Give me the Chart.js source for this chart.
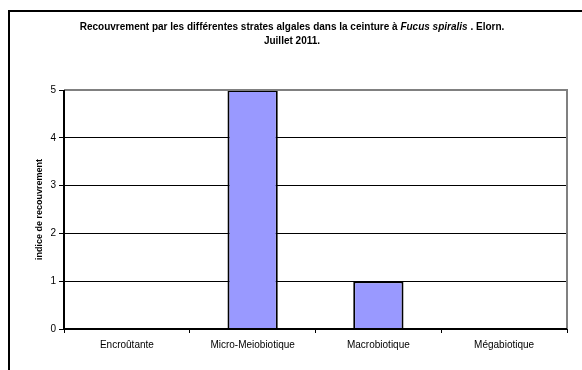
<!DOCTYPE html>
<html>
<head>
<meta charset="utf-8">
<script src="https://cdn.jsdelivr.net/npm/chart.js@4/dist/chart.umd.min.js"></script>
<style>
  html, body { margin: 0; padding: 0; background: #fff; }
  #wrap { position: relative; width: 582px; height: 370px; }
</style>
</head>
<body>
<div id="wrap"><canvas id="c" width="582" height="370"></canvas></div>
<script>
// Strates algales et indice de recouvrement
const categories = ['Encroûtante', 'Micro-Meiobiotique', 'Macrobiotique', 'Mégabiotique'];
const recouvrement = [0, 5, 1, 0];
const yTickLabels = ['0', '1', '2', '3', '4', '5'];

const titleLine1 = [
  { text: 'Recouvrement par les différentes strates algales dans la ceinture à ', italic: false },
  { text: 'Fucus spiralis', italic: true },
  { text: ' . Elorn.', italic: false }
];
const titleLine2 = 'Juillet 2011.';
const axisTitle = 'indice de recouvrement';

const FONT = '"Liberation Sans", Arial, sans-serif';

// Outer frame, plot-area border and two-line title with an italic species name
const decor = {
  id: 'decor',
  beforeDraw(chart) {
    const ctx = chart.ctx;
    ctx.save();
    ctx.fillStyle = '#fff';
    ctx.fillRect(0, 0, chart.width, chart.height);
    ctx.strokeStyle = '#000';
    ctx.lineWidth = 2;
    ctx.beginPath();
    ctx.moveTo(9, chart.height);
    ctx.lineTo(9, 11);
    ctx.lineTo(chart.width, 11);
    ctx.stroke();
    ctx.restore();
  },
  afterDatasetsDraw(chart) {
    const ctx = chart.ctx;
    const a = chart.chartArea;
    ctx.save();
    ctx.lineWidth = 2;
    ctx.strokeStyle = '#808080';
    ctx.beginPath();
    ctx.moveTo(a.left, a.top);
    ctx.lineTo(a.right, a.top);
    ctx.lineTo(a.right, a.bottom);
    ctx.stroke();
    ctx.strokeStyle = '#000';
    ctx.beginPath();
    ctx.moveTo(a.left, a.top);
    ctx.lineTo(a.left, a.bottom);
    ctx.lineTo(a.right, a.bottom);
    ctx.stroke();

    // title
    ctx.fillStyle = '#000';
    ctx.textBaseline = 'middle';
    ctx.textAlign = 'left';
    const cx = 292;
    let total = 0;
    const widths = titleLine1.map(s => {
      ctx.font = (s.italic ? 'italic ' : '') + 'bold 10px ' + FONT;
      const w = ctx.measureText(s.text).width;
      total += w;
      return w;
    });
    let x = cx - total / 2;
    titleLine1.forEach((s, i) => {
      ctx.font = (s.italic ? 'italic ' : '') + 'bold 10px ' + FONT;
      ctx.fillText(s.text, x, 27);
      x += widths[i];
    });
    ctx.textAlign = 'center';
    ctx.font = 'bold 10px ' + FONT;
    ctx.fillText(titleLine2, cx, 41);
    ctx.restore();
  }
};

new Chart(document.getElementById('c'), {
  type: 'bar',
  data: {
    labels: categories,
    datasets: [{
      data: recouvrement,
      backgroundColor: '#9999FF',
      borderColor: '#000',
      borderWidth: 2,
      categoryPercentage: 1,
      barPercentage: 0.4
    }]
  },
  options: {
    responsive: false,
    animation: false,
    layout: { padding: { left: 9, top: 90, right: 15, bottom: 0 } },
    plugins: {
      legend: { display: false },
      title: { display: false },
      tooltip: { enabled: false }
    },
    scales: {
      x: {
        offset: true,
        grid: {
          offset: true,
          drawOnChartArea: false,
          drawTicks: true,
          tickLength: 4,
          color: '#000',
          lineWidth: 1
        },
        border: { display: false },
        ticks: {
          color: '#000',
          font: { family: FONT, size: 10 },
          padding: 6,
          maxRotation: 0,
          autoSkip: false
        },
        afterFit(scale) { scale.height = 41; }
      },
      y: {
        min: 0,
        max: 5,
        grid: {
          color: '#000',
          lineWidth: 1,
          tickLength: 5,
          drawTicks: true
        },
        border: { display: false },
        ticks: {
          stepSize: 1,
          color: '#000',
          font: { family: FONT, size: 10 },
          padding: 3,
          callback: (v, i) => yTickLabels[i]
        },
        title: {
          display: true,
          text: axisTitle,
          color: '#000',
          font: { family: FONT, size: 9, weight: 'bold' },
          padding: { top: 25, bottom: 0 }
        },
        afterFit(scale) { scale.width = 55; }
      }
    }
  },
  plugins: [decor]
});
</script>
</body>
</html>
